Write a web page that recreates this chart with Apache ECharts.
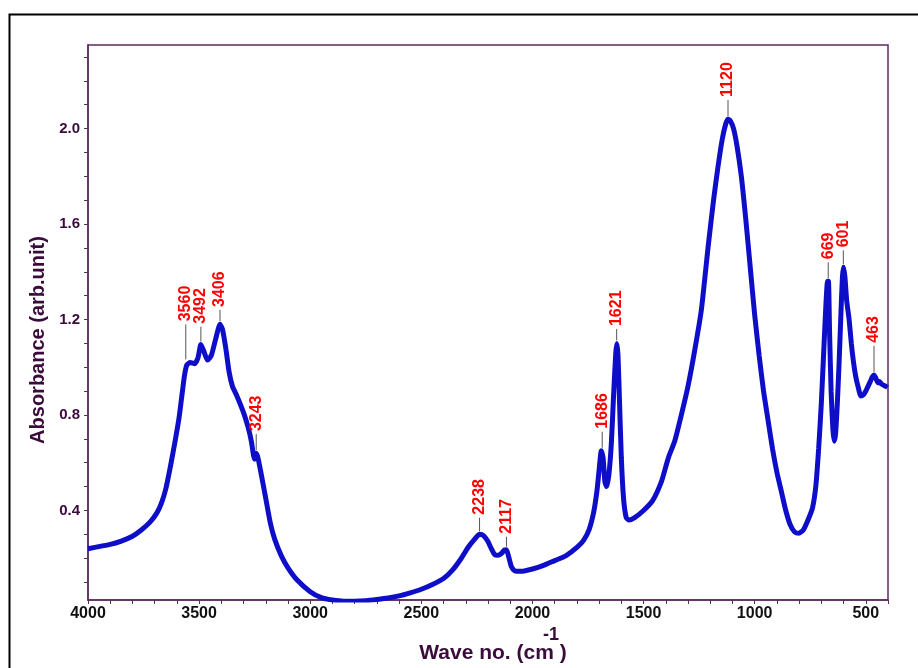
<!DOCTYPE html>
<html>
<head>
<meta charset="utf-8">
<script src="https://cdn.jsdelivr.net/npm/echarts@6/dist/echarts.min.js"></script>
<style>
html, body { margin: 0; padding: 0; background: #fff; }
#container { width: 918px; height: 668px; }
</style>
</head>
<body>
<div id="container"></div>
<script>
let chart = echarts.init(document.getElementById('container'));

// spectrum
var waveNo = [4000, 3900, 3850, 3800, 3760, 3720, 3690, 3670, 3650, 3630, 3610, 3590, 3575, 3565, 3555, 3540, 3520, 3505, 3492, 3480, 3462, 3445, 3425, 3406, 3395, 3380, 3365, 3350, 3330, 3300, 3280, 3265, 3255, 3250, 3243, 3235, 3220, 3200, 3180, 3160, 3130, 3100, 3060, 3000, 2950, 2900, 2850, 2800, 2750, 2700, 2650, 2600, 2550, 2500, 2450, 2400, 2360, 2320, 2290, 2260, 2238, 2220, 2200, 2185, 2170, 2155, 2140, 2125, 2117, 2108, 2095, 2080, 2050, 2000, 1950, 1900, 1850, 1800, 1770, 1745, 1725, 1710, 1700, 1690, 1682, 1674, 1666, 1656, 1645, 1635, 1625, 1620, 1615, 1608, 1600, 1590, 1578, 1565, 1540, 1500, 1460, 1420, 1395, 1385, 1360, 1330, 1300, 1270, 1240, 1210, 1185, 1165, 1145, 1130, 1120, 1108, 1095, 1080, 1060, 1040, 1020, 1000, 980, 960, 940, 920, 900, 880, 860, 840, 820, 800, 780, 760, 740, 725, 712, 700, 690, 680, 672, 668, 663, 656, 648, 642, 636, 628, 620, 612, 605, 600, 594, 586, 575, 565, 555, 545, 535, 522, 510, 495, 480, 470, 463, 455, 445, 438, 430, 420, 410, 402];
var absorbance = [0.24, 0.258, 0.272, 0.292, 0.318, 0.352, 0.39, 0.43, 0.49, 0.58, 0.68, 0.79, 0.90, 0.97, 1.01, 1.02, 1.015, 1.04, 1.095, 1.07, 1.03, 1.05, 1.12, 1.18, 1.16, 1.08, 0.98, 0.92, 0.88, 0.81, 0.75, 0.69, 0.63, 0.615, 0.64, 0.62, 0.55, 0.45, 0.35, 0.28, 0.21, 0.16, 0.11, 0.06, 0.035, 0.025, 0.02, 0.02, 0.022, 0.027, 0.033, 0.042, 0.055, 0.07, 0.09, 0.115, 0.15, 0.2, 0.245, 0.28, 0.30, 0.295, 0.27, 0.24, 0.215, 0.212, 0.22, 0.235, 0.236, 0.21, 0.165, 0.148, 0.145, 0.155, 0.17, 0.19, 0.21, 0.245, 0.275, 0.32, 0.39, 0.48, 0.57, 0.65, 0.62, 0.52, 0.50, 0.55, 0.68, 0.88, 1.06, 1.10, 1.05, 0.85, 0.62, 0.45, 0.37, 0.36, 0.37, 0.40, 0.44, 0.52, 0.60, 0.63, 0.69, 0.80, 0.92, 1.07, 1.24, 1.50, 1.70, 1.84, 1.96, 2.02, 2.04, 2.03, 2.0, 1.93, 1.80, 1.62, 1.42, 1.22, 1.05, 0.90, 0.78, 0.66, 0.56, 0.48, 0.40, 0.34, 0.31, 0.305, 0.32, 0.36, 0.41, 0.50, 0.66, 0.85, 1.05, 1.25, 1.36, 1.36, 1.15, 0.90, 0.74, 0.69, 0.72, 0.85, 1.02, 1.22, 1.38, 1.42, 1.38, 1.28, 1.20, 1.10, 1.02, 0.96, 0.92, 0.88, 0.885, 0.91, 0.94, 0.96, 0.968, 0.955, 0.935, 0.94, 0.93, 0.925, 0.92, 0.915];

// peak annotations: position, height of peak, top of leader line
var peakNames = ['3560', '3492', '3406', '3243', '2238', '2117', '1686', '1621', '1120', '669', '601', '463'];
var peakWave = [3560, 3492, 3406, 3243, 2238, 2117, 1686, 1621, 1120, 669, 601, 463];
var peakAbs = [1.02, 1.095, 1.18, 0.64, 0.30, 0.236, 0.65, 1.10, 2.04, 1.36, 1.42, 0.968];
var leaderTop = [1.18, 1.17, 1.24, 0.72, 0.37, 0.29, 0.73, 1.16, 2.12, 1.44, 1.49, 1.09];

var xTicks = [500, 1000, 1500, 2000, 2500, 3000, 3500, 4000];
var yTicks = [0.4, 0.8, 1.2, 1.6, 2.0];

var purple = '#5c2c5c';
var darkPurple = '#3b0b3b';

var xMinor = [];
for (var w = 400; w <= 4000; w += 100) xMinor.push(w);
var yMinor = [];
for (var k = 1; k <= 23; k++) yMinor.push(+(k * 0.1).toFixed(1));

var spectrum = waveNo.map((w, i) => [w, absorbance[i]]);
var peaks = peakWave.map((w, i) => [w, peakAbs[i], leaderTop[i], peakNames[i]]);

var option = {
    animation: false,
    grid: {
        left: 88,
        right: 30,
        top: 45,
        bottom: 68,
        show: true,
        borderColor: purple,
        borderWidth: 1.5,
    },
    xAxis: {
        type: 'value',
        inverse: true,
        min: 400,
        max: 4000,
        splitLine: { show: false },
        axisLine: { lineStyle: { color: purple, width: 1.5 } },
        axisTick: {
            customValues: xMinor,
            length: 4,
            lineStyle: { color: purple },
        },
        axisLabel: {
            customValues: xTicks,
            formatter: v => String(v),
            color: '#111',
            fontFamily: 'Liberation Sans, Arial',
            fontWeight: 'bold',
            fontSize: 16,
            margin: 6,
        },
    },
    yAxis: {
        type: 'value',
        min: 0.025,
        max: 2.35,
        splitLine: { show: false },
        axisLine: { lineStyle: { color: purple, width: 1.5 } },
        axisTick: {
            customValues: yMinor,
            length: 4,
            lineStyle: { color: purple },
        },
        axisLabel: {
            customValues: yTicks,
            formatter: v => v.toFixed(1),
            color: darkPurple,
            fontFamily: 'Liberation Sans, Arial',
            fontWeight: 'bold',
            fontSize: 15,
            margin: 8,
        },
    },
    graphic: [
        {
            type: 'rect',
            left: 7,
            top: 12,
            shape: { width: 1000, height: 1000 },
            style: { fill: 'none', stroke: '#000', lineWidth: 2 },
            silent: true,
        },
        {
            type: 'text',
            x: 38,
            y: 340,
            rotation: Math.PI / 2,
            style: {
                text: 'Absorbance (arb.unit)',
                fill: darkPurple,
                font: 'bold 20px "Liberation Sans", Arial',
                align: 'center',
                verticalAlign: 'middle',
            },
        },
        {
            type: 'text',
            x: 493,
            y: 653,
            style: {
                text: 'Wave no. (cm )',
                fill: darkPurple,
                font: 'bold 21px "Liberation Sans", Arial',
                align: 'center',
                verticalAlign: 'middle',
            },
        },
        {
            type: 'text',
            x: 551,
            y: 635,
            style: {
                text: '-1',
                fill: darkPurple,
                font: 'bold 18px "Liberation Sans", Arial',
                align: 'center',
                verticalAlign: 'middle',
            },
        },
    ],
    series: [
        {
            name: 'spectrum',
            type: 'line',
            data: spectrum,
            showSymbol: false,
            smooth: 0.2,
            lineStyle: { color: '#0e0ec8', width: 5 },
            z: 3,
        },
        {
            name: 'peaks',
            type: 'custom',
            data: peaks,
            z: 4,
            renderItem: function (params, api) {
                let base = api.coord([api.value(0), api.value(1)]);
                let top = api.coord([api.value(0), api.value(2)]);
                return {
                    type: 'group',
                    children: [
                        {
                            type: 'line',
                            shape: { x1: base[0], y1: base[1] - 3, x2: top[0], y2: top[1] },
                            style: { stroke: '#555', lineWidth: 1 },
                        },
                        {
                            type: 'text',
                            x: top[0],
                            y: top[1] - 3,
                            rotation: Math.PI / 2,
                            style: {
                                text: peakNames[params.dataIndex],
                                fill: '#ff0000',
                                font: 'bold 16px "Liberation Sans", Arial',
                                align: 'left',
                                verticalAlign: 'middle',
                                textAlign: 'left',
                                textVerticalAlign: 'middle',
                            },
                        },
                    ],
                };
            },
        },
    ],
};

chart.setOption(option);
</script>
</body>
</html>
